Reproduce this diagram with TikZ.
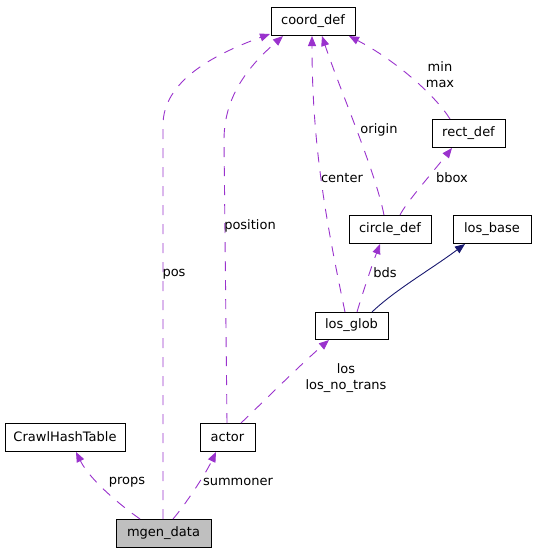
\documentclass[tikz,border=0pt]{standalone}
\usepackage{fontspec}
\setmainfont{DejaVu Sans}
\usetikzlibrary{arrows.meta}
\definecolor{edgepurple}{HTML}{9A32CD}
\definecolor{edgenavy}{HTML}{191970}
\begin{document}
\begin{tikzpicture}[x=1pt,y=-1pt,
  box/.style={draw=black,line width=1pt,minimum height=28pt,inner sep=0pt,font=\fontsize{13}{15}\selectfont,fill=white},
  rel/.style={draw=edgepurple,line width=0.9pt,dash pattern=on 10pt off 9pt,-{Triangle[length=10pt,width=8pt,fill=edgepurple]}},
  inh/.style={draw=edgenavy,line width=0.9pt,-{Triangle[length=10pt,width=8pt,fill=edgenavy]}},
  lbl/.style={font=\fontsize{13}{16}\selectfont,inner sep=0pt,align=center}]
\useasboundingbox (0,0) rectangle (536,552);
\node[box,minimum width=84pt] (coord) at (313,21) {coord\_def};
\node[box,minimum width=73pt] (rect) at (468.5,133) {rect\_def};
\node[box,minimum width=82pt] (circle) at (390,229) {circle\_def};
\node[box,minimum width=78pt] (base) at (492,229) {los\_base};
\node[box,minimum width=73pt,minimum height=27pt] (glob) at (351.5,325.5) {los\_glob};
\node[box,minimum width=120pt] (crawl) at (65,437) {CrawlHashTable};
\node[box,minimum width=55pt] (actor) at (227.5,437) {actor};
\node[box,minimum width=95pt,fill={rgb,255:red,191;green,191;blue,191}] (mgen) at (163.5,533) {mgen\_data};

\coordinate (mgenA) at (140,519);
\coordinate (mgenB) at (163,519);
\coordinate (mgenC) at (173,519);
\coordinate (actA) at (227,423);
\coordinate (actB) at (241,423);
\coordinate (globA) at (345,312);
\coordinate (globB) at (357,312);
\coordinate (globC) at (372,312);
\coordinate (circA) at (384,215);
\coordinate (circB) at (400,215);
\coordinate (rectT) at (450,119);

\coordinate (cdA) at (270,34);
\coordinate (cdB) at (283,36);
\coordinate (cdC) at (312,36);
\coordinate (cdD) at (322,36);
\coordinate (cdE) at (349,36);
\coordinate (rectB) at (452,148);
\coordinate (circBot) at (380,244);
\coordinate (baseBot) at (465,244);
\coordinate (globBot) at (329,340);
\coordinate (crawlBot) at (76,452);
\coordinate (actorBot) at (216,452);

\draw[rel] (mgenB) -- (163,125) .. controls (163,82) and (212,55) .. (cdA);
\draw[rel] (actA) -- (224,140) .. controls (224,95) and (250,65) .. (cdB);
\draw[rel] (globA) .. controls (328,230) and (312,150) .. (cdC);
\draw[rel] (circA) .. controls (375,170) and (340,90) .. (cdD);
\draw[rel] (rectT) .. controls (435,95) and (395,60) .. (cdE);
\draw[rel] (circB) .. controls (406,203) and (428,178) .. (rectB);
\draw[rel] (globB) .. controls (362,295) and (372,265) .. (circBot);
\draw[inh] (globC) .. controls (395,290) and (430,270) .. (baseBot);
\draw[rel] (actB) .. controls (260,405) and (300,365) .. (globBot);
\draw[rel] (mgenA) .. controls (120,505) and (90,480) .. (crawlBot);
\draw[rel] (mgenC) .. controls (185,505) and (205,475) .. (actorBot);

\node[lbl] (lpos) at (174,274) {pos};
\node[lbl] (lposition) at (250,226) {position};
\node[lbl] (lcenter) at (342,178) {center};
\node[lbl] (lorigin) at (379,130) {origin};
\node[lbl] (lminmax) at (440,75) {min\\max};
\node[lbl] (lbbox) at (452,178) {bbox};
\node[lbl] (lbds) at (385,273) {bds};
\node[lbl] (llos) at (346,378) {los\\los\_no\_trans};
\node[lbl] (lprops) at (127,482) {props};
\node[lbl] (lsumm) at (238,482) {summoner};
\end{tikzpicture}
\end{document}
